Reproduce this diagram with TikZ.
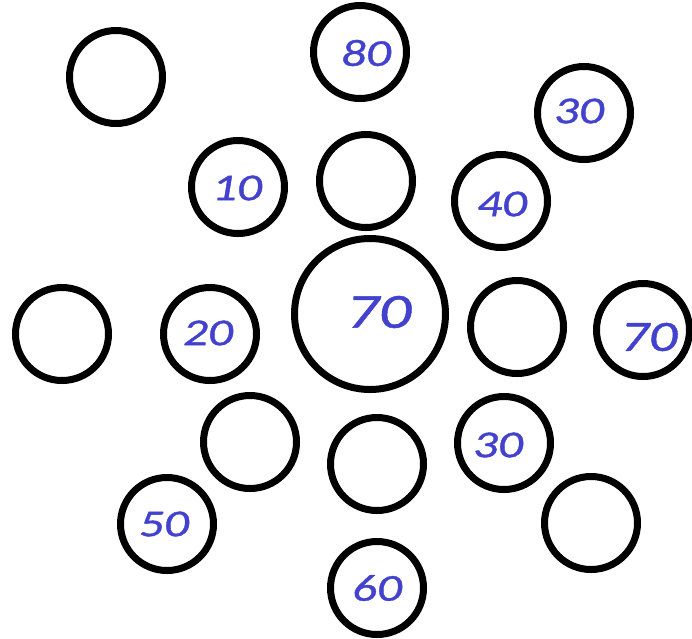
\documentclass[tikz,border=0pt]{standalone}
\usepackage{fontspec}
\newfontfamily\labfont{Carlito}[FakeStretch=1.3,FakeBold=1]
\definecolor{labblue}{RGB}{66,66,206}
\tikzset{
  ring/.style={circle, draw=black, line width=7pt, inner sep=0pt, minimum size=93pt},
  bigring/.style={ring, minimum size=151pt},
  lab/.style={inner sep=0pt, text=labblue, font=\labfont\itshape\fontsize{38}{40}\selectfont},
  biglab/.style={lab, font=\labfont\itshape\fontsize{49}{51}\selectfont},
  midlab/.style={lab, font=\labfont\itshape\fontsize{43}{45}\selectfont}
}
\begin{document}
\begin{tikzpicture}[x=1pt,y=-1pt]
\useasboundingbox[fill=white] (0,0) rectangle (692,638);
\node[ring] (c1) at (116,77) {};
\node[ring] (c2) at (360,52) {};
\node[ring] (c3) at (584,113) {};
\node[ring] (c4) at (238,187) {};
\node[ring] (c5) at (366,181) {};
\node[ring] (c6) at (501,201) {};
\node[bigring] (c7) at (370,314) {};
\node[ring] (c8) at (62,334) {};
\node[ring] (c9) at (210,334) {};
\node[ring] (c10) at (517,327) {};
\node[ring] (c11) at (643,330) {};
\node[ring] (c12) at (250,442) {};
\node[ring] (c13) at (377,464) {};
\node[ring] (c14) at (504,443) {};
\node[ring] (c15) at (167,524) {};
\node[ring] (c16) at (591,523) {};
\node[ring] (c17) at (377,588) {};
\node[lab] (t2) at (366,53) {80};
\node[lab] (t3) at (579,111) {30};
\node[lab] (t4) at (237,188) {10};
\node[lab] (t6) at (502,204) {40};
\node[biglab] (t7) at (379,312) {70};
\node[lab] (t9) at (208,333) {20};
\node[midlab] (t11) at (649,337) {70};
\node[lab] (t14) at (498,445) {30};
\node[lab] (t15) at (164,524) {50};
\node[lab] (t17) at (377,588) {60};
\end{tikzpicture}
\end{document}
